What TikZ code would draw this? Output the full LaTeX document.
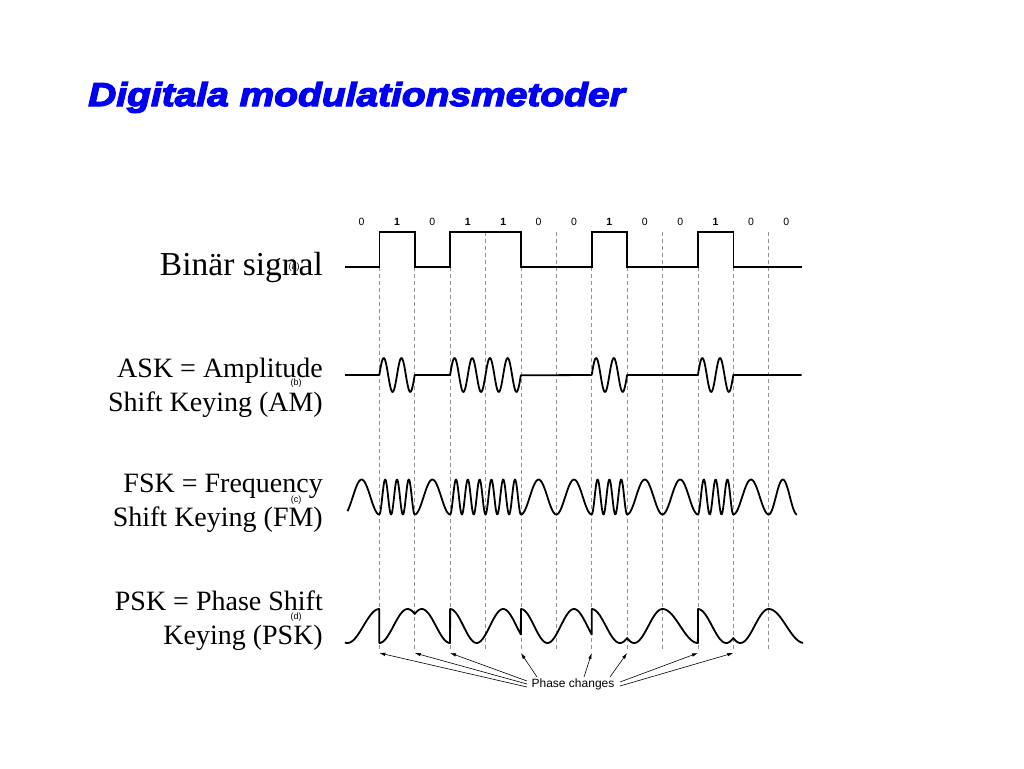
\documentclass[tikz,border=0pt]{standalone}
\usepackage{fontspec}
\setmainfont{Liberation Serif}
\newfontfamily\lsans{Liberation Sans}
\newfontfamily\titlefont[FakeStretch=1.18,FakeBold=4]{Liberation Sans}
\usetikzlibrary{arrows.meta}
\definecolor{titleblue}{RGB}{0,0,245}
\begin{document}
\begin{tikzpicture}[x=1pt,y=-1pt,
  wave/.style={line width=1.8pt, line join=round},
  sig/.style={line width=1.6pt},
  gridline/.style={gray!85, dash pattern=on 4pt off 3pt, line width=0.7pt},
  lbl/.style={font=\fontsize{28}{34}\selectfont, anchor=base east, inner sep=0},
  tag/.style={font=\lsans\fontsize{9}{10}\selectfont, inner sep=0},
  bitlbl/.style={font=\lsans\fontsize{10.5}{12}\selectfont, inner sep=0},
  arr/.style={line width=0.6pt, -{Latex[length=6pt,width=3.5pt]}}]
\useasboundingbox (0,0) rectangle (1024,768);

% title
\node[anchor=base west, inner sep=0, text=titleblue,
      font=\titlefont\bfseries\itshape\fontsize{33}{40}\selectfont] (title) at (88,106) {Digitala modulationsmetoder};

% dashed bit boundaries
\foreach \u in {1,...,12}
  \draw[gridline] ({343.9+35.4*\u},232) -- ({343.9+35.4*\u},650);

% bit labels
\foreach \b [count=\i from 0] in {0,1,0,1,1,0,0,1,0,0,1,0,0}
  \node[bitlbl] (bit\i) at ({343.9+35.4*(\i+0.5)},222) {\ifnum\b=1\bfseries\fi\b};

% left labels
\node[lbl, font=\fontsize{33.5}{40}\selectfont] (lA) at (323,275) {Binär signal};
\node[lbl] (lB1) at (323,377) {ASK = Amplitude};
\node[lbl] (lB2) at (323,411) {Shift Keying (AM)};
\node[lbl] (lC1) at (323,492) {FSK = Frequency};
\node[lbl] (lC2) at (323,526) {Shift Keying (FM)};
\node[lbl] (lD1) at (323,610) {PSK = Phase Shift};
\node[lbl] (lD2) at (323,644) {Keying (PSK)};

\node[tag] (ta) at (294,267) {(a)};
\node[tag] (tb) at (296,383) {(b)};
\node[tag] (tc) at (296,500) {(c)};
\node[tag] (td) at (296,617) {(d)};

% binary signal
\draw[sig] (345,267) -- (379.3,267) -- (379.3,231.7) -- (414.7,231.7) -- (414.7,267)
  -- (450.1,267) -- (450.1,231.7) -- (520.9,231.7) -- (520.9,267)
  -- (591.7,267) -- (591.7,231.7) -- (627.1,231.7) -- (627.1,267)
  -- (697.9,267) -- (697.9,231.7) -- (733.3,231.7) -- (733.3,267) -- (801.7,267);

% ASK
\draw[wave] (345,375) -- (379.3,375)
  -- plot[domain=1:2,samples=50] ({343.9+35.4*\x},{375-17*sin(720*\x)})
  -- (450.1,375)
  -- plot[domain=3:5,samples=100] ({343.9+35.4*\x},{375-17*sin(720*\x)})
  -- (591.7,375)
  -- plot[domain=7:8,samples=50] ({343.9+35.4*\x},{375-17*sin(720*\x)})
  -- (697.9,375)
  -- plot[domain=10:11,samples=50] ({343.9+35.4*\x},{375-17*sin(720*\x)})
  -- (801.7,375);

% FSK
\draw[wave] plot[domain=0.1:1,samples=30] ({343.9+35.4*\x},{497+17.5*cos(360*\x)})
  -- plot[domain=1:2,samples=60] ({343.9+35.4*\x},{497+17.5*cos(1080*\x)})
  -- plot[domain=2:3,samples=30] ({343.9+35.4*\x},{497+17.5*cos(360*\x)})
  -- plot[domain=3:5,samples=120] ({343.9+35.4*\x},{497+17.5*cos(1080*\x)})
  -- plot[domain=5:7,samples=60] ({343.9+35.4*\x},{497+17.5*cos(360*\x)})
  -- plot[domain=7:8,samples=60] ({343.9+35.4*\x},{497+17.5*cos(1080*\x)})
  -- plot[domain=8:10,samples=60] ({343.9+35.4*\x},{497+17.5*cos(360*\x)})
  -- plot[domain=10:11,samples=60] ({343.9+35.4*\x},{497+17.5*cos(1080*\x)})
  -- plot[domain=11:12,samples=30] ({343.9+35.4*\x},{497+17.5*cos(360*\x)})
  -- plot[domain=12:12.8,samples=30] ({343.9+35.4*\x},{497+17.5*cos(360*(\x-12)/0.8)});

% PSK
\draw[wave] plot[domain=0.03:1,samples=30] ({343.9+35.4*\x},{626+17*cos(180*(\x-0.1)/0.9)})
  -- (379.3,643)
  -- plot[domain=1:2,samples=30] ({343.9+35.4*\x},{626+17*cos(225*(\x-1))})
  -- plot[domain=2:3,samples=30] ({343.9+35.4*\x},{626+17*cos(225*(3-\x))})
  -- (450.1,609)
  -- plot[domain=3:5,samples=60] ({343.9+35.4*\x},{626-17*cos(240*(\x-3))})
  -- (520.9,609)
  -- plot[domain=5:7,samples=60] ({343.9+35.4*\x},{626-17*cos(240*(\x-5))})
  -- (591.7,609)
  -- plot[domain=7:8,samples=30] ({343.9+35.4*\x},{626-17*cos(225*(\x-7))})
  -- plot[domain=8:9,samples=30] ({343.9+35.4*\x},{626-17*cos(225*(9-\x))})
  -- plot[domain=9:10,samples=30] ({343.9+35.4*\x},{626-17*cos(180*(\x-9))})
  -- (697.9,609)
  -- plot[domain=10:11,samples=30] ({343.9+35.4*\x},{626-17*cos(225*(\x-10))})
  -- plot[domain=11:12,samples=30] ({343.9+35.4*\x},{626-17*cos(225*(12-\x))})
  -- plot[domain=12:12.97,samples=30] ({343.9+35.4*\x},{626-17*cos(180*(\x-12))});

% phase changes
\node[font=\lsans\fontsize{12}{14}\selectfont, inner sep=0] (pc) at (573,684) {Phase changes};
\coordinate (t1) at (379.3,653);
\coordinate (t2) at (414.7,653);
\coordinate (t3) at (450.1,653);
\coordinate (t5) at (520.9,653);
\coordinate (t7) at (591.7,653);
\coordinate (t8) at (627.1,653);
\coordinate (t10) at (697.9,653);
\coordinate (t11) at (733.3,653);
\coordinate (s1) at (527,687);
\coordinate (s2) at (527,684);
\coordinate (s3) at (527,681);
\coordinate (s5) at (537,677);
\coordinate (s7) at (584,677);
\coordinate (s8) at (610,677);
\coordinate (s10) at (620,682);
\coordinate (s11) at (620,686);
\foreach \k in {1,2,3,5,7,8,10,11}
  \draw[arr] (s\k) -- (t\k);
\end{tikzpicture}
\end{document}
